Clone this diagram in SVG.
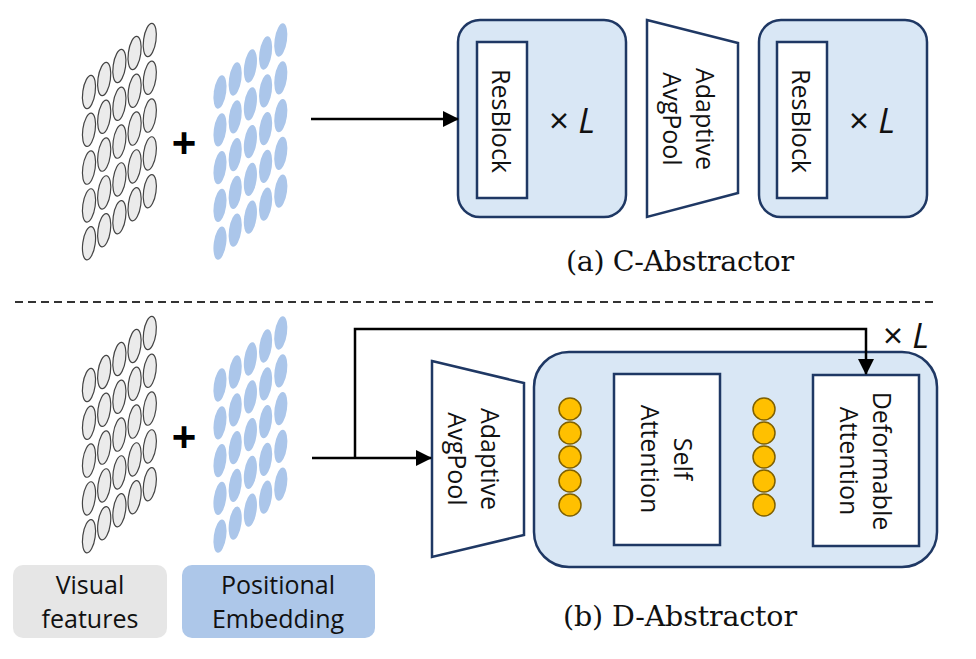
<svg xmlns="http://www.w3.org/2000/svg" xmlns:xlink="http://www.w3.org/1999/xlink" width="976" height="659" viewBox="0 0 976 659">
<style>
.box{fill:#d9e7f5;stroke:#1f3864;stroke-width:2.5}
.blk{fill:#fff;stroke:#1f3864;stroke-width:2.5}
.lbl{font-family:"Open Sans","Noto Sans",sans-serif;font-size:25px;fill:#111}
.times{font-family:"Open Sans","Noto Sans",sans-serif;font-size:35px;fill:#111}
.cap{font-family:"DejaVu Serif","Liberation Serif",serif;font-size:28.5px;fill:#111}
.plus{font-family:"Liberation Sans",Arial,sans-serif;font-size:42px;font-weight:bold;fill:#000}
.conn{fill:none;stroke:#000;stroke-width:2.5}
.dot{fill:#ffc000;stroke:#7f6000;stroke-width:1.5}
.gray{fill:#ebebeb;stroke:#444;stroke-width:1.2}
.blue{fill:#abc6ea;stroke:none}
</style>
<defs>
<marker id="ah" markerUnits="userSpaceOnUse" markerWidth="16" markerHeight="16" refX="15" refY="8" orient="auto">
<path d="M0,0 L16,8 L0,16 z" fill="#000"/>
</marker>
<g id="grid">
<ellipse cx="0" cy="0" rx="6.2" ry="16.8" transform="rotate(8 0 0)"/>
<ellipse cx="0" cy="37.8" rx="6.2" ry="16.8" transform="rotate(8 0 37.8)"/>
<ellipse cx="0" cy="75.6" rx="6.2" ry="16.8" transform="rotate(8 0 75.6)"/>
<ellipse cx="0" cy="113.4" rx="6.2" ry="16.8" transform="rotate(8 0 113.4)"/>
<ellipse cx="0" cy="151.2" rx="6.2" ry="16.8" transform="rotate(8 0 151.2)"/>
<ellipse cx="15.2" cy="-13" rx="6.2" ry="16.8" transform="rotate(8 15.2 -13)"/>
<ellipse cx="15.2" cy="24.8" rx="6.2" ry="16.8" transform="rotate(8 15.2 24.8)"/>
<ellipse cx="15.2" cy="62.6" rx="6.2" ry="16.8" transform="rotate(8 15.2 62.6)"/>
<ellipse cx="15.2" cy="100.4" rx="6.2" ry="16.8" transform="rotate(8 15.2 100.4)"/>
<ellipse cx="15.2" cy="138.2" rx="6.2" ry="16.8" transform="rotate(8 15.2 138.2)"/>
<ellipse cx="30.4" cy="-26" rx="6.2" ry="16.8" transform="rotate(8 30.4 -26)"/>
<ellipse cx="30.4" cy="11.8" rx="6.2" ry="16.8" transform="rotate(8 30.4 11.8)"/>
<ellipse cx="30.4" cy="49.6" rx="6.2" ry="16.8" transform="rotate(8 30.4 49.6)"/>
<ellipse cx="30.4" cy="87.4" rx="6.2" ry="16.8" transform="rotate(8 30.4 87.4)"/>
<ellipse cx="30.4" cy="125.2" rx="6.2" ry="16.8" transform="rotate(8 30.4 125.2)"/>
<ellipse cx="45.6" cy="-39" rx="6.2" ry="16.8" transform="rotate(8 45.6 -39)"/>
<ellipse cx="45.6" cy="-1.2" rx="6.2" ry="16.8" transform="rotate(8 45.6 -1.2)"/>
<ellipse cx="45.6" cy="36.6" rx="6.2" ry="16.8" transform="rotate(8 45.6 36.6)"/>
<ellipse cx="45.6" cy="74.4" rx="6.2" ry="16.8" transform="rotate(8 45.6 74.4)"/>
<ellipse cx="45.6" cy="112.2" rx="6.2" ry="16.8" transform="rotate(8 45.6 112.2)"/>
<ellipse cx="60.8" cy="-52" rx="6.2" ry="16.8" transform="rotate(8 60.8 -52)"/>
<ellipse cx="60.8" cy="-14.2" rx="6.2" ry="16.8" transform="rotate(8 60.8 -14.2)"/>
<ellipse cx="60.8" cy="23.6" rx="6.2" ry="16.8" transform="rotate(8 60.8 23.6)"/>
<ellipse cx="60.8" cy="61.4" rx="6.2" ry="16.8" transform="rotate(8 60.8 61.4)"/>
<ellipse cx="60.8" cy="99.2" rx="6.2" ry="16.8" transform="rotate(8 60.8 99.2)"/>
</g>
</defs>

<!-- (a) C-Abstractor -->
<g id="a-visual-features"><use xlink:href="#grid" href="#grid" class="gray" transform="translate(89,92)"/></g>
<text class="plus" x="184" y="157" text-anchor="middle">+</text>
<g id="a-positional-embedding"><use xlink:href="#grid" href="#grid" class="blue" transform="translate(220,92)"/></g>

<g id="a-resblock-1">
<rect class="box" x="458" y="20" width="168" height="197" rx="22"/>
<rect class="blk" x="477" y="42" width="50" height="156"/>
<text class="lbl" transform="translate(501,121) rotate(90)" text-anchor="middle" y="9">ResBlock</text>
<text class="times" x="572" y="133" text-anchor="middle">× <tspan font-style="italic">L</tspan></text>
</g>
<g id="a-adaptive-avgpool">
<polygon class="blk" points="647,20 738,43 738,193 647,217"/>
<text class="lbl" transform="translate(688,119) rotate(90)" text-anchor="middle"><tspan x="0" y="-8">Adaptive</tspan><tspan x="0" y="25">AvgPool</tspan></text>
</g>
<g id="a-resblock-2">
<rect class="box" x="759" y="20" width="168" height="197" rx="22"/>
<rect class="blk" x="777" y="42" width="50" height="156"/>
<text class="lbl" transform="translate(801,121) rotate(90)" text-anchor="middle" y="9">ResBlock</text>
<text class="times" x="872" y="133" text-anchor="middle">× <tspan font-style="italic">L</tspan></text>
</g>
<text class="cap" x="680" y="271" text-anchor="middle" textLength="228">(a) C-Abstractor</text>

<line x1="15" y1="302" x2="935" y2="302" stroke="#333" stroke-width="2" stroke-dasharray="8 5"/>

<!-- (b) D-Abstractor -->
<g id="b-visual-features"><use xlink:href="#grid" href="#grid" class="gray" transform="translate(89,385)"/></g>
<text class="plus" x="184" y="451" text-anchor="middle">+</text>
<g id="b-positional-embedding"><use xlink:href="#grid" href="#grid" class="blue" transform="translate(220,385)"/></g>

<g id="b-adaptive-avgpool">
<polygon class="blk" points="432,361 524,383 524,535 432,557"/>
<text class="lbl" transform="translate(473,459) rotate(90)" text-anchor="middle"><tspan x="0" y="-8">Adaptive</tspan><tspan x="0" y="25">AvgPool</tspan></text>
</g>
<g id="b-attention-block">
<rect class="box" x="534" y="352" width="403" height="215" rx="35"/>
<g id="b-tokens-1">
<circle class="dot" cx="570" cy="409" r="11"/>
<circle class="dot" cx="570" cy="433" r="11"/>
<circle class="dot" cx="570" cy="457" r="11"/>
<circle class="dot" cx="570" cy="481" r="11"/>
<circle class="dot" cx="570" cy="505" r="11"/>
</g>
<g id="b-self-attention">
<rect class="blk" x="614" y="374" width="106" height="171"/>
<text class="lbl" transform="translate(666,459) rotate(90)" text-anchor="middle"><tspan x="0" y="-8">Self</tspan><tspan x="0" y="25">Attention</tspan></text>
</g>
<g id="b-tokens-2">
<circle class="dot" cx="764" cy="409" r="11"/>
<circle class="dot" cx="764" cy="433" r="11"/>
<circle class="dot" cx="764" cy="457" r="11"/>
<circle class="dot" cx="764" cy="481" r="11"/>
<circle class="dot" cx="764" cy="505" r="11"/>
</g>
<g id="b-deformable-attention">
<rect class="blk" x="813" y="375" width="106" height="171"/>
<text class="lbl" transform="translate(865,461) rotate(90)" text-anchor="middle"><tspan x="0" y="-8">Deformable</tspan><tspan x="0" y="25">Attention</tspan></text>
</g>
</g>
<text class="times" x="906" y="348" text-anchor="middle">× <tspan font-style="italic">L</tspan></text>
<text class="cap" x="680" y="626" text-anchor="middle" textLength="234">(b) D-Abstractor</text>

<g id="legend-visual">
<rect x="13" y="565" width="154" height="73" rx="10" fill="#e6e6e6"/>
<text class="lbl" x="90" y="594" text-anchor="middle">Visual</text>
<text class="lbl" x="90" y="628" text-anchor="middle">features</text>
</g>
<g id="legend-positional">
<rect x="182" y="565" width="193" height="73" rx="10" fill="#adc7e9"/>
<text class="lbl" x="278" y="594" text-anchor="middle">Positional</text>
<text class="lbl" x="278" y="628" text-anchor="middle">Embedding</text>
</g>

<g id="connectors">
<line class="conn" x1="311" y1="119" x2="458" y2="119" marker-end="url(#ah)"/>
<line class="conn" x1="312" y1="458" x2="431" y2="458" marker-end="url(#ah)"/>
<path class="conn" d="M355,458 V329 H866 V374" marker-end="url(#ah)"/>
</g>
</svg>
